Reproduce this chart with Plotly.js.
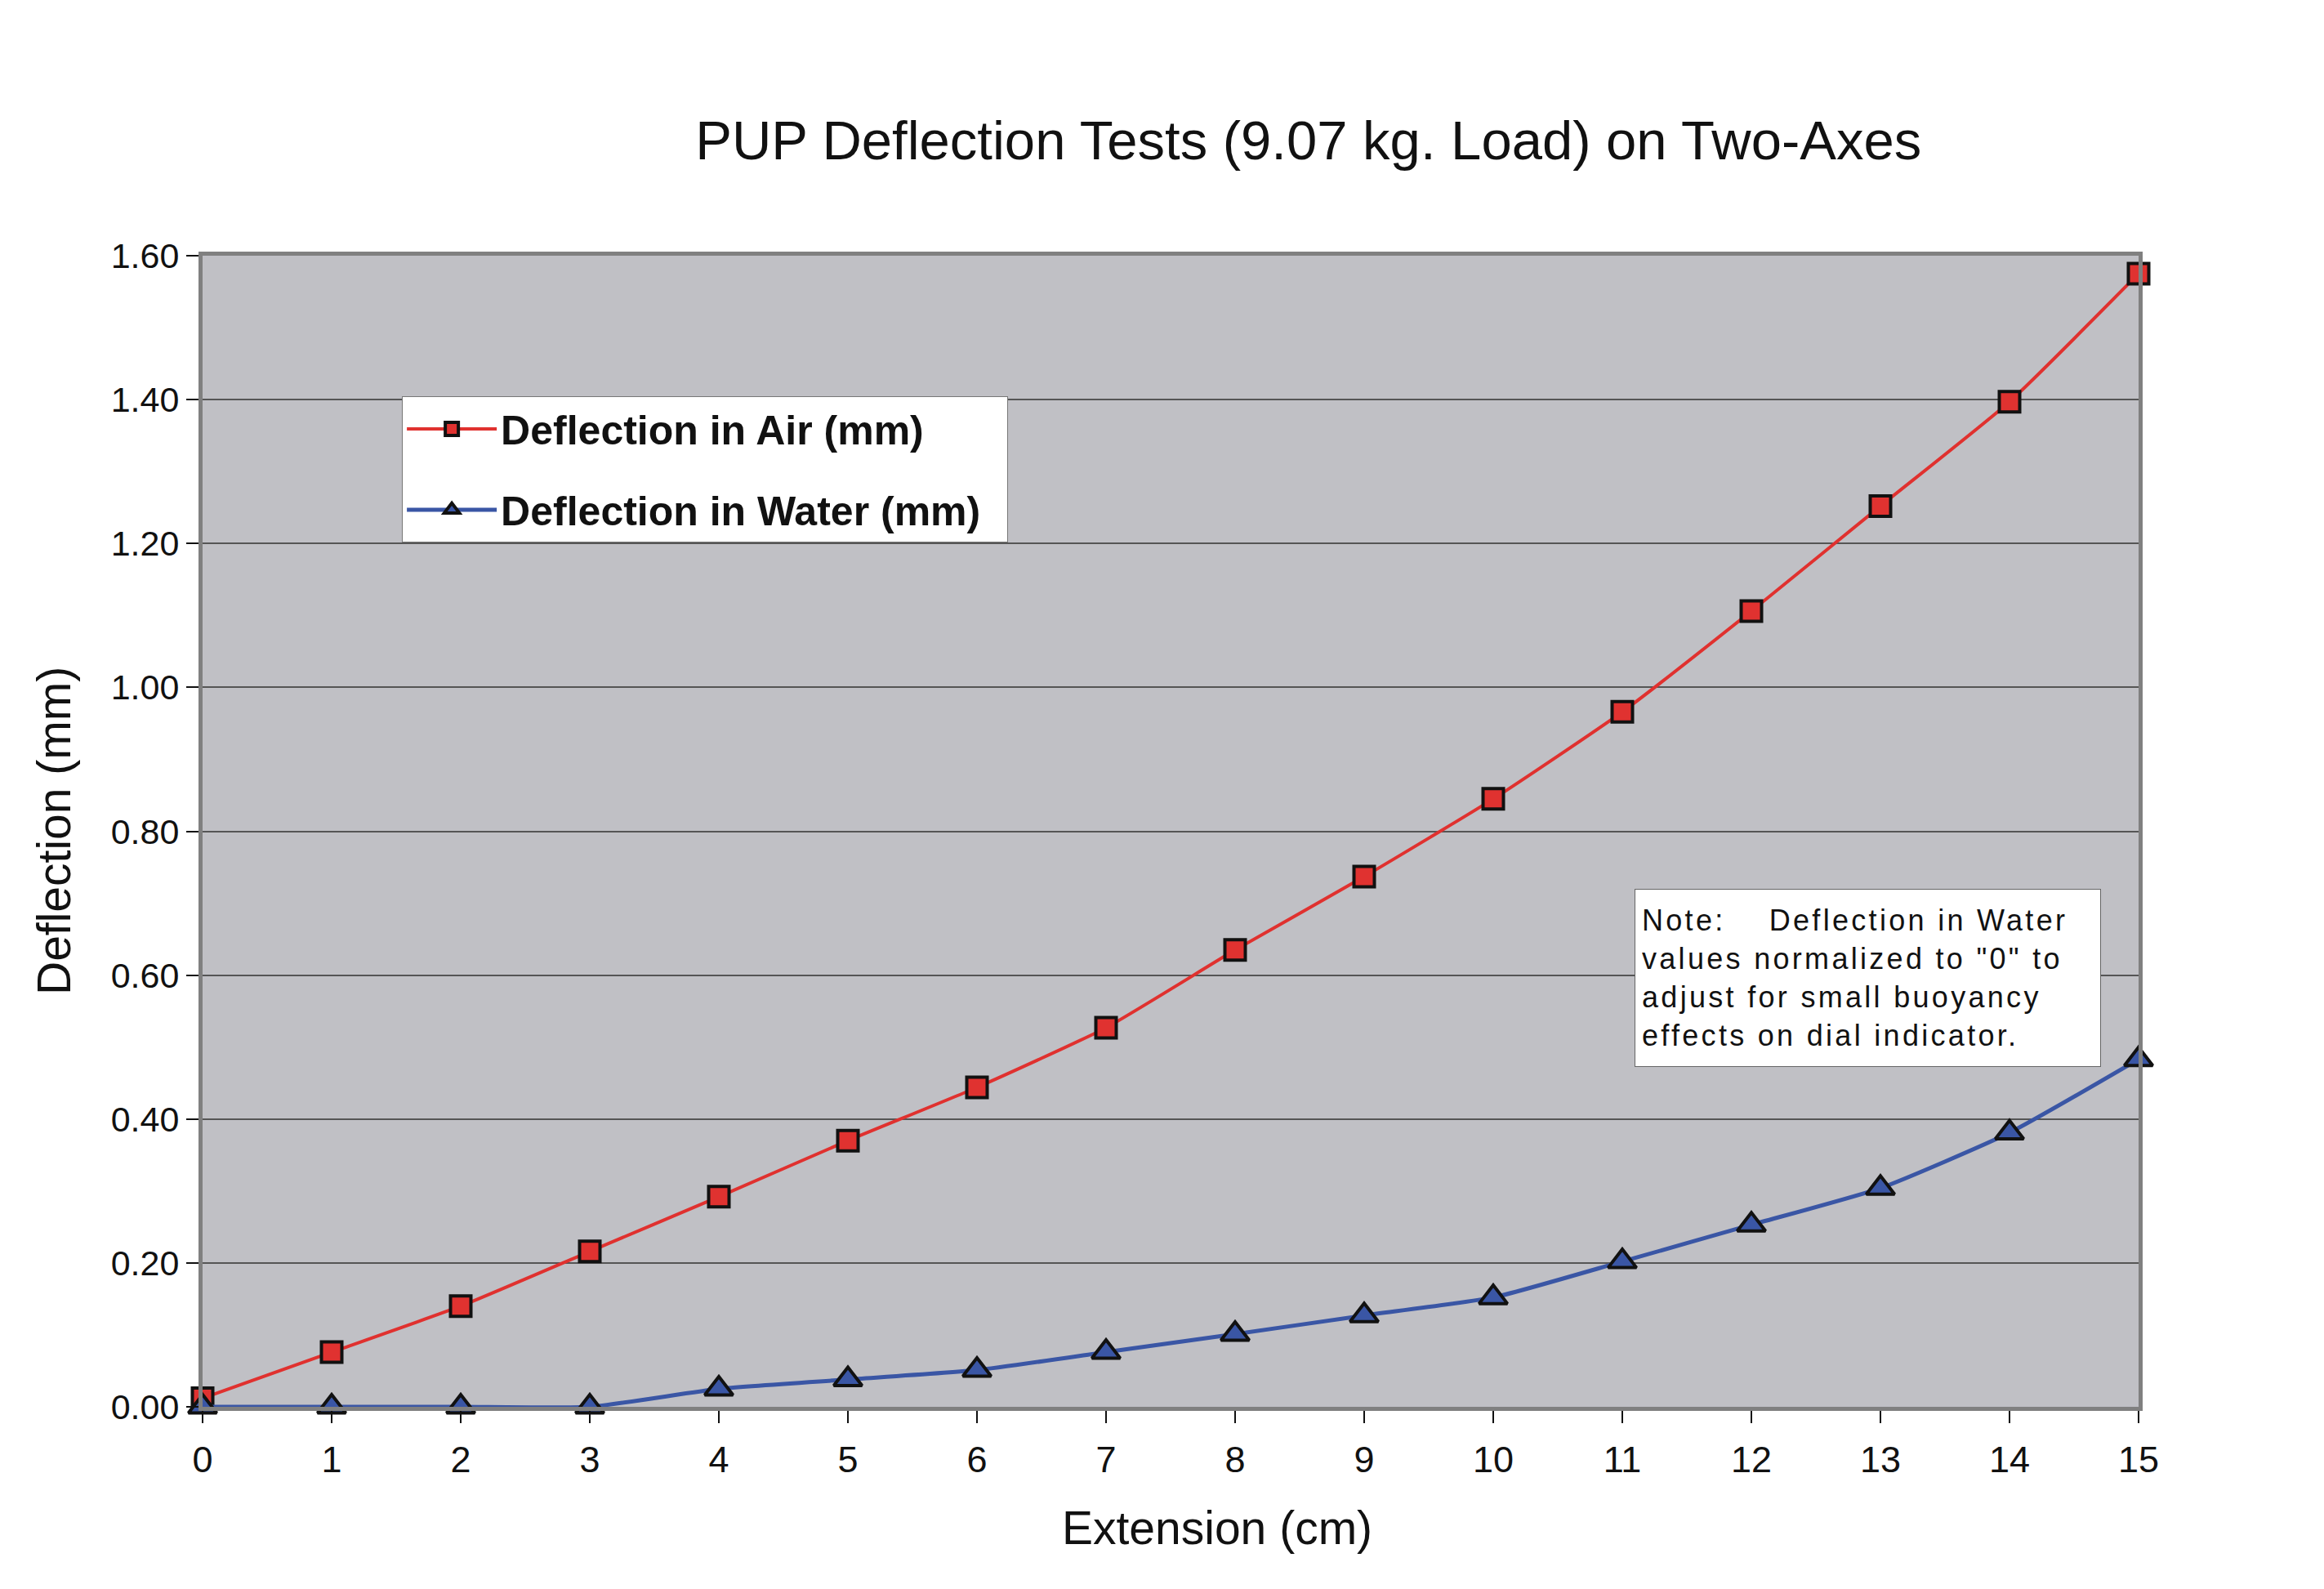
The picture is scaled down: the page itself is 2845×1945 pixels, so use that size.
<!DOCTYPE html>
<html>
<head>
<meta charset="utf-8">
<script src="https://cdn.plot.ly/plotly-3.0.1.min.js"></script>
<style>
  html, body { margin: 0; padding: 0; background: #fff; }
  #plot { width: 2845px; height: 1945px; }
</style>
</head>
<body>
<div id="plot"></div>
<script>
// Extension (cm) along the x axis
var extension = [0, 1, 2, 3, 4, 5, 6, 7, 8, 9, 10, 11, 12, 13, 14, 15];

// Deflection values (mm)
var deflectionAir = [0.012, 0.076, 0.140, 0.216, 0.292, 0.370, 0.444, 0.527, 0.635, 0.737, 0.845, 0.966, 1.106, 1.252, 1.397, 1.575];
var deflectionWater = [0.000, 0.000, 0.000, 0.000, 0.025, 0.038, 0.051, 0.076, 0.101, 0.127, 0.152, 0.202, 0.253, 0.304, 0.381, 0.483];

var yTicks = [0, 0.2, 0.4, 0.6, 0.8, 1.0, 1.2, 1.4, 1.6];

var font = 'Arial, "Liberation Sans", Helvetica, sans-serif';

var trace_air = {
    x: extension,
    y: deflectionAir,
    mode: 'lines+markers',
    name: 'Deflection in Air (mm)\u00a0\u00a0',
    legendgroup: 'air',
    cliponaxis: false,
    line: {color: '#e0312f', width: 4, shape: 'spline', smoothing: 0.5},
    marker: {symbol: 'square', size: 25, color: '#e03230', line: {color: '#111', width: 4}},
    type: 'scatter'
};
var trace_water = {
    x: extension,
    y: deflectionWater,
    mode: 'lines+markers',
    name: 'Deflection in Water (mm)\u00a0\u00a0',
    legendgroup: 'water',
    cliponaxis: false,
    line: {color: '#3a56a5', width: 5, shape: 'spline', smoothing: 0.5},
    marker: {symbol: 'triangle-up', size: 30, color: '#3a56a5', line: {color: '#111', width: 4}},
    type: 'scatter'
};
var data = [trace_air, trace_water];

var noteText = '<span style="letter-spacing:3.3px">Note:\u00a0\u00a0\u00a0 Deflection in Water<br>' +
    'values normalized to "0" to<br>' +
    'adjust for small buoyancy<br>' +
    'effects on dial indicator.</span>';

var layout = {
    width: 2845,
    height: 1945,
    paper_bgcolor: '#ffffff',
    plot_bgcolor: '#c0c0c5',
    font: {family: font, color: '#111'},
    margin: {l: 248, r: 227, t: 313, b: 223},
    showlegend: true,
    title: {
        text: 'PUP Deflection Tests (9.07 kg. Load) on Two-Axes',
        font: {size: 67, family: font, color: '#111'},
        x: 0.563, xref: 'container', xanchor: 'center',
        y: 0.912, yref: 'container', yanchor: 'middle'
    },
    xaxis: {
        range: [0, 15],
        tickmode: 'array',
        tickvals: extension,
        ticks: 'outside', ticklen: 15, tickwidth: 2, tickcolor: '#111',
        ticklabelstandoff: 6,
        tickfont: {size: 45, family: font, color: '#111'},
        showgrid: false,
        zeroline: false,
        showline: true, linecolor: '#808080', linewidth: 5, mirror: true,
        fixedrange: true
    },
    yaxis: {
        range: [0, 1.6],
        tickmode: 'array',
        tickvals: yTicks,
        tickformat: '.2f',
        ticks: 'outside', ticklen: 15, tickwidth: 2, tickcolor: '#111',
        tickfont: {size: 43, family: font, color: '#111'},
        showgrid: true, gridcolor: '#555555', gridwidth: 2,
        zeroline: false,
        showline: true, linecolor: '#808080', linewidth: 5, mirror: true,
        fixedrange: true
    },
    legend: {
        x: 0.103, xanchor: 'left',
        y: 0.878, yanchor: 'top',
        bgcolor: '#ffffff',
        bordercolor: '#777',
        borderwidth: 1,
        font: {size: 50, family: font, color: '#111', weight: 'bold'},
        itemwidth: 110,
        tracegroupgap: 31,
        traceorder: 'grouped'
    },
    annotations: [
        {
            text: 'Extension (cm)',
            xref: 'paper', yref: 'paper',
            x: 0.524, y: -0.105,
            xanchor: 'center', yanchor: 'middle',
            showarrow: false,
            font: {size: 57, family: font, color: '#111'}
        },
        {
            text: 'Deflection (mm)',
            xref: 'paper', yref: 'paper',
            x: -0.077, y: 0.5,
            xanchor: 'center', yanchor: 'middle',
            textangle: -90,
            showarrow: false,
            font: {size: 57, family: font, color: '#111'}
        },
        {
            text: noteText,
            xref: 'paper', yref: 'paper',
            x: 0.7395, y: 0.45,
            xanchor: 'left', yanchor: 'top',
            align: 'left', valign: 'middle',
            width: 553, height: 200,
            borderpad: 8,
            bgcolor: '#ffffff',
            bordercolor: '#666',
            borderwidth: 1,
            showarrow: false,
            font: {size: 36, family: font, color: '#111'}
        }
    ]
};

Plotly.newPlot('plot', data, layout, {staticPlot: true, displayModeBar: false});
</script>
</body>
</html>
